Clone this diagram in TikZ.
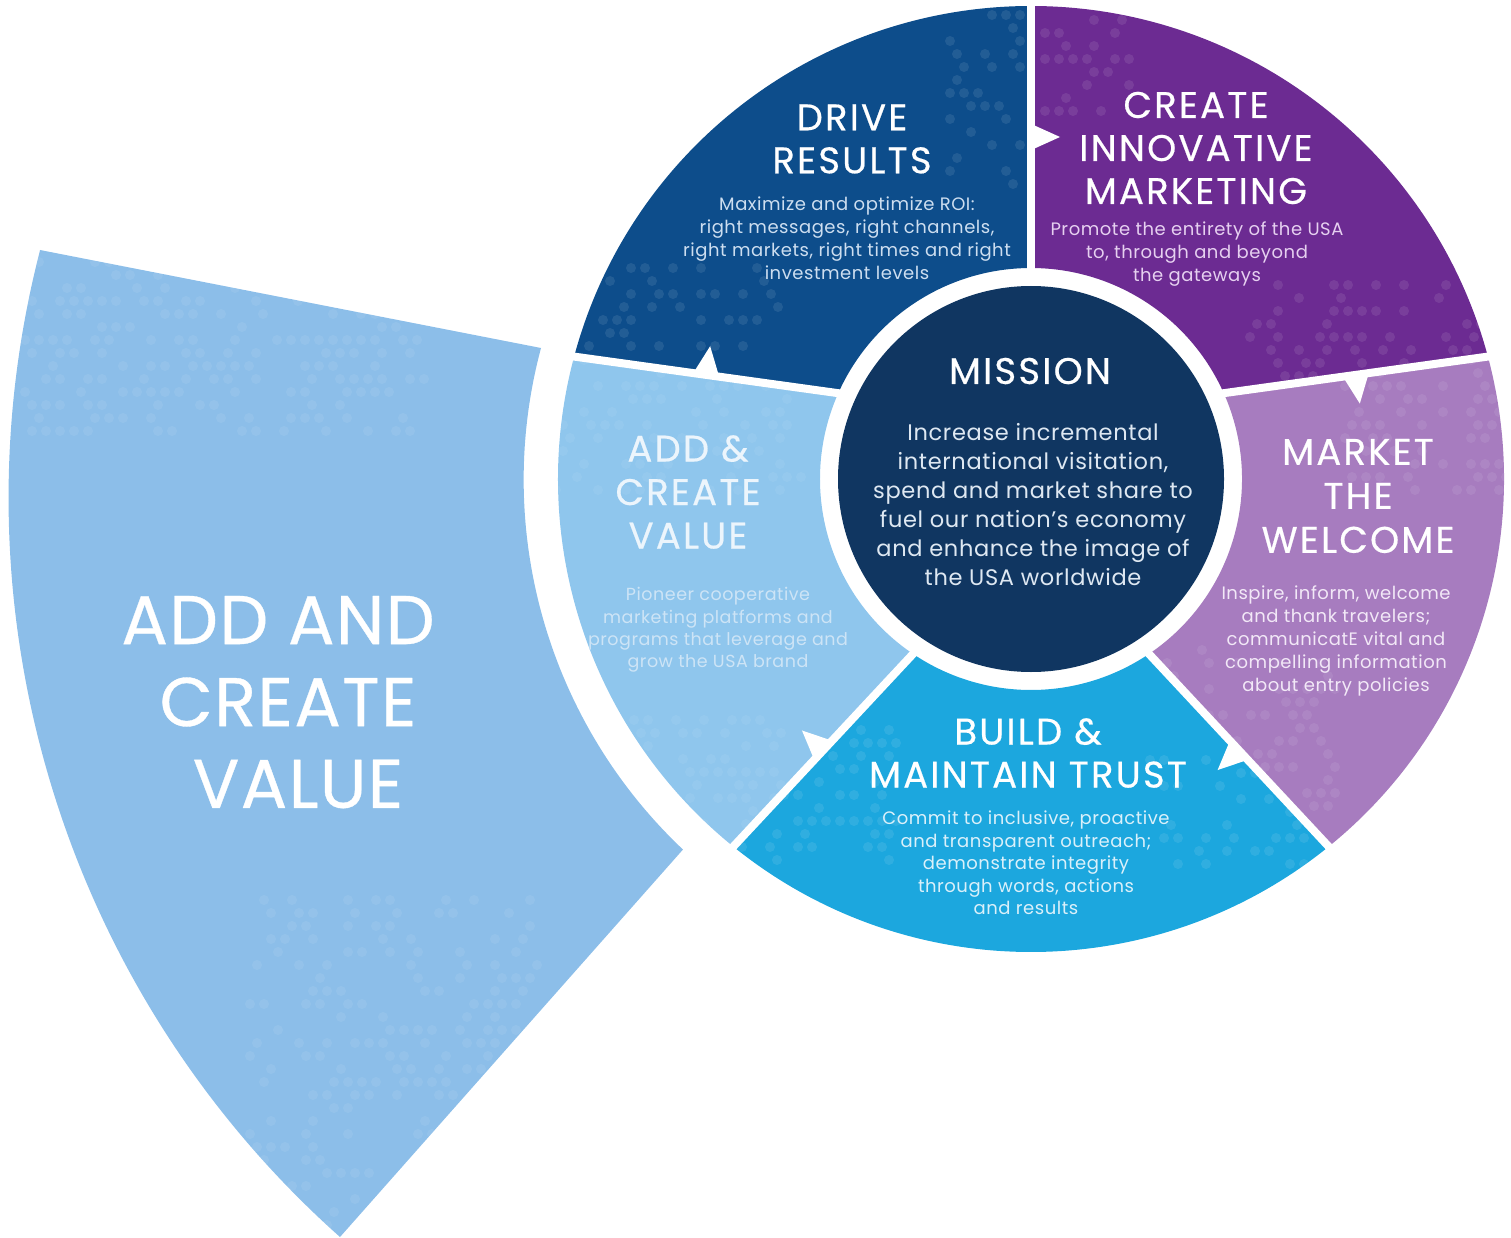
\documentclass[tikz,border=0pt]{standalone}
\usepackage{fontspec}
\setmainfont{Poppins}
\newfontfamily\headfont[LetterSpace=6,FakeBold=0.5]{Poppins}
\newfontfamily\bodyfont[LetterSpace=3]{Poppins}
\newfontfamily\bigfont[LetterSpace=2,FakeBold=0.5]{Poppins}
\usetikzlibrary{calc}

\definecolor{cDrive}{RGB}{13,77,139}
\definecolor{cCreate}{RGB}{108,43,146}
\definecolor{cWelcome}{RGB}{167,124,191}
\definecolor{cTrust}{RGB}{28,167,222}
\definecolor{cAdd}{RGB}{143,198,237}
\definecolor{cBig}{RGB}{140,190,233}
\definecolor{cMission}{RGB}{16,54,97}
\definecolor{tDrive}{RGB}{205,222,240}
\definecolor{tCreate}{RGB}{230,208,240}
\definecolor{tMission}{RGB}{222,232,242}
\definecolor{tWelcome}{RGB}{242,232,247}
\definecolor{tTrust}{RGB}{218,240,250}
\definecolor{tAddHead}{RGB}{236,245,252}
\definecolor{tAddBody}{RGB}{205,228,246}

% halftone dot texture: x0, y0 (downwards), columns, rows, opacity
\newcommand\dotfield[5]{%
  \foreach \di in {0,...,#3}{%
    \foreach \dj in {0,...,#4}{%
      \pgfmathrandominteger{\dr}{0}{99}%
      \ifnum\dr<40\relax
        \fill[white,opacity=#5] ({#1+\di*14+mod(\dj,2)*7},{-#2-\dj*13}) circle[radius=5];
      \fi}}}

\begin{document}
\begin{tikzpicture}[x=1pt,y=1pt,
  ring/.style={shift={(1031,-479)}},
  head/.style={text=white,align=center,inner sep=0pt,font=\headfont\fontsize{37}{43}\selectfont},
  body/.style={align=center,inner sep=0pt,font=\bodyfont\fontsize{18}{23}\selectfont},
  bigtext/.style={text=white,inner sep=0pt,font=\bigfont\fontsize{69}{82}\selectfont},
  gap/.style={white,line width=8,shorten <=-8pt,shorten >=-8pt},
  notch/.style={white}]
\pgfmathsetseed{2024}
\useasboundingbox (0,0) rectangle (1511,-1238);

% boundary end points of the ring segments (inner radius 211, outer radius 473)
\begin{scope}[ring]
  \coordinate (i1) at (90:211);   \coordinate (o1) at (90:473);
  \coordinate (i2) at (24:211);   \coordinate (o2) at (15:473);
  \coordinate (i3) at (-56:211);  \coordinate (o3) at (-51:473);
  \coordinate (i4) at (-124:211); \coordinate (o4) at (-129:473);
  \coordinate (i5) at (156:211);  \coordinate (o5) at (165:473);
\end{scope}

% enlarged segment on the left
\begin{scope}
  \clip (40,-250) -- (541,-348) arc[start angle=165,end angle=226.6,radius=509]
        -- (340,-1237) arc[start angle=228.3,end angle=165.56,radius=990] -- cycle;
  \fill[cBig] (0,0) rectangle (1511,-1238);
  \dotfield{25}{262}{28}{13}{0.07}
  \dotfield{250}{900}{20}{26}{0.07}
\end{scope}

% ring segments
\begin{scope}
  \clip (o1) arc[start angle=90,end angle=165,radius=473] -- (i5)
        arc[start angle=156,end angle=90,radius=211] -- cycle;
  \fill[cDrive] (0,0) rectangle (1511,-1238);
  \dotfield{950}{15}{6}{13}{0.09}
  \dotfield{575}{268}{14}{6}{0.09}
\end{scope}
\begin{scope}
  \clip (o2) arc[start angle=15,end angle=90,radius=473] -- (i1)
        arc[start angle=90,end angle=24,radius=211] -- cycle;
  \fill[cCreate] (0,0) rectangle (1511,-1238);
  \dotfield{1038}{20}{6}{7}{0.09}
  \dotfield{1250}{285}{17}{8}{0.09}
\end{scope}
\begin{scope}
  \clip (o3) arc[start angle=-51,end angle=15,radius=473] -- (i2)
        arc[start angle=24,end angle=-56,radius=211] -- cycle;
  \fill[cWelcome] (0,0) rectangle (1511,-1238);
  \dotfield{1345}{360}{11}{10}{0.08}
  \dotfield{1160}{650}{12}{14}{0.08}
\end{scope}
\begin{scope}
  \clip (o4) arc[start angle=-129,end angle=-51,radius=473] -- (i3)
        arc[start angle=-56,end angle=-124,radius=211] -- cycle;
  \fill[cTrust] (0,0) rectangle (1511,-1238);
  \dotfield{735}{730}{11}{10}{0.09}
  \dotfield{1150}{760}{13}{8}{0.09}
\end{scope}
\begin{scope}
  \clip (o5) arc[start angle=165,end angle=231,radius=473] -- (i4)
        arc[start angle=236,end angle=156,radius=211] -- cycle;
  \fill[cAdd] (0,0) rectangle (1511,-1238);
  \dotfield{556}{360}{17}{10}{0.06}
  \dotfield{620}{720}{11}{9}{0.06}
\end{scope}

% white gaps between segments and the clockwise arrow notches
\foreach \k/\phi in {1/90,2/7.9,3/-47,4/227,5/172.1}{
  \draw[gap] (i\k) -- (o\k);
  \fill[notch,shift={($(i\k)!0.5!(o\k)$)},rotate=\phi] (-14,2) -- (14,2) -- (0,-29) -- cycle;
}

% mission disc
\node[circle,fill=cMission,minimum size=386pt,inner sep=0pt] (mission) at (1031,-479) {};

% texts
\node[head] (drivehead) at (852,-139) {DRIVE\\RESULTS};
\node[body,text=tDrive] (drivebody) at (847,-238) {Maximize and optimize ROI:\\right messages, right channels,\\right markets, right times and right\\investment levels};

\node[head] (createhead) at (1196,-148) {CREATE\\INNOVATIVE\\MARKETING};
\node[body,text=tCreate] (createbody) at (1197,-254) {Promote the entirety of the USA\\to, through and beyond\\the gateways};

\node[head] (missionhead) at (1030,-371) {MISSION};
\node[body,text=tMission,font=\bodyfont\fontsize{22.5}{29}\selectfont] (missionbody) at (1033,-505) {Increase incremental\\international visitation,\\spend and market share to\\fuel our nation’s economy\\and enhance the image of\\the USA worldwide};

\node[head,font=\headfont\fontsize{37}{44}\selectfont] (welcomehead) at (1358,-496) {MARKET\\THE\\WELCOME};
\node[body,text=tWelcome,font=\bodyfont\fontsize{18}{22.8}\selectfont] (welcomebody) at (1336,-641) {Inspire, inform, welcome\\and thank travelers;\\communicatE vital and\\compelling information\\about entry policies};

\node[head] (trusthead) at (1028,-753) {BUILD \&\\MAINTAIN TRUST};
\node[body,text=tTrust,font=\bodyfont\fontsize{18}{22.5}\selectfont] (trustbody) at (1026,-863) {Commit to inclusive, proactive\\and transparent outreach;\\demonstrate integrity\\through words, actions\\and results};

\node[head,text=tAddHead,font=\headfont\fontsize{37}{43.5}\selectfont] (addhead) at (688,-492) {ADD \&\\CREATE\\VALUE};
\node[body,text=tAddBody,font=\bodyfont\fontsize{17.5}{22.3}\selectfont] (addbody) at (718,-630) {Pioneer cooperative\\marketing platforms and\\programs that leverage and\\grow the USA brand};

\node[bigtext] (bigone) at (278,-620) {ADD AND};
\node[bigtext] (bigtwo) at (288,-702) {CREATE};
\node[bigtext] (bigthree) at (298,-784) {VALUE};
\end{tikzpicture}
\end{document}
